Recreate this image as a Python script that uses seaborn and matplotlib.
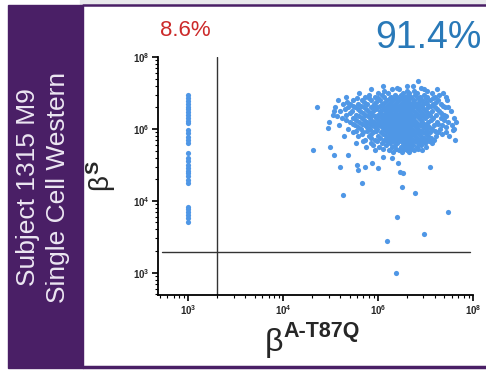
import numpy as np
import pandas as pd
import seaborn as sns
import matplotlib.pyplot as plt
from matplotlib.patches import Rectangle
from matplotlib.lines import Line2D

# values are log10 intensities
# left column: cells with no beta-A-T87Q signal (pinned at 10^3)
neg_x = 3.0
neg_y = [5.47, 5.43, 5.39, 5.35, 5.31, 5.27, 5.23, 5.19, 5.15, 5.11, 5.08,
         4.99, 4.94, 4.89, 4.84, 4.81,
         4.67, 4.60, 4.55, 4.50, 4.46, 4.42, 4.38, 4.34, 4.29, 4.25,
         3.92, 3.88, 3.84, 3.80, 3.76, 3.71]

# main cluster, one row per beta-S level
cluster_rows = {
    5.67: [5.42],
    5.60: [5.05, 5.37, 5.30],
    5.575: [5.20, 5.45],
    5.55: [4.92, 5.15, 5.22, 5.48, 5.62],
    5.525: [5.06, 5.30, 5.38, 5.52],
    5.50: [4.80, 5.00, 5.10, 5.26, 5.33, 5.41, 5.57, 5.68],
    5.475: [4.90, 5.04, 5.18, 5.24, 5.31, 5.39, 5.48, 5.64],
    5.45: [4.66, 4.86, 4.97, 5.06, 5.14, 5.20, 5.28, 5.35, 5.44, 5.52, 5.60, 5.72],
    5.425: [4.78, 4.90, 5.00, 5.12, 5.19, 5.25, 5.30, 5.34, 5.42, 5.50, 5.58],
    5.40: [4.58, 4.74, 4.83, 4.93, 5.02, 5.09, 5.16, 5.22, 5.27, 5.31, 5.38, 5.46, 5.55, 5.63, 5.73],
    5.375: [4.67, 4.85, 4.98, 5.07, 5.14, 5.20, 5.26, 5.32, 5.37, 5.43, 5.50, 5.61],
    5.35: [4.63, 4.70, 4.79, 4.88, 4.96, 5.04, 5.11, 5.18, 5.24, 5.29, 5.34, 5.40, 5.47, 5.52, 5.58, 5.66],
    5.325: [4.73, 4.82, 4.95, 5.02, 5.09, 5.15, 5.20, 5.24, 5.28, 5.33, 5.38, 5.44, 5.56, 5.68],
    5.30: [4.55, 4.68, 4.76, 4.85, 4.92, 4.99, 5.06, 5.12, 5.17, 5.21, 5.26, 5.30, 5.35, 5.41, 5.46, 5.53, 5.60, 5.70],
    5.275: [4.65, 4.79, 4.87, 4.98, 5.05, 5.11, 5.16, 5.22, 5.27, 5.31, 5.36, 5.42, 5.48, 5.62],
    5.25: [4.60, 4.72, 4.81, 4.89, 4.95, 5.02, 5.08, 5.14, 5.19, 5.24, 5.28, 5.33, 5.38, 5.44, 5.50, 5.57, 5.64, 5.77],
    5.225: [4.70, 4.84, 4.92, 5.03, 5.08, 5.13, 5.18, 5.23, 5.28, 5.34, 5.40, 5.46, 5.53, 5.66],
    5.20: [4.52, 4.66, 4.77, 4.86, 4.94, 5.00, 5.05, 5.10, 5.16, 5.21, 5.25, 5.30, 5.36, 5.42, 5.48, 5.55, 5.61, 5.69],
    5.175: [4.57, 4.80, 4.89, 4.97, 5.02, 5.07, 5.12, 5.19, 5.24, 5.29, 5.34, 5.39, 5.45, 5.52, 5.72],
    5.15: [4.62, 4.74, 4.83, 4.91, 4.98, 5.04, 5.09, 5.13, 5.18, 5.23, 5.27, 5.32, 5.37, 5.43, 5.49, 5.58, 5.66, 5.80],
    5.125: [4.66, 4.77, 4.85, 4.93, 5.00, 5.06, 5.11, 5.15, 5.20, 5.25, 5.29, 5.34, 5.38, 5.45, 5.56, 5.69],
    5.10: [4.48, 4.70, 4.80, 4.88, 4.96, 5.03, 5.08, 5.12, 5.17, 5.22, 5.26, 5.31, 5.35, 5.40, 5.46, 5.53, 5.62, 5.74, 5.82],
    5.075: [4.73, 4.83, 4.91, 4.99, 5.05, 5.10, 5.16, 5.21, 5.26, 5.31, 5.36, 5.42, 5.48, 5.63],
    5.05: [4.59, 4.76, 4.86, 4.94, 5.01, 5.07, 5.14, 5.19, 5.24, 5.28, 5.33, 5.38, 5.44, 5.51, 5.59, 5.67, 5.78],
    5.025: [4.79, 4.88, 4.97, 5.04, 5.09, 5.15, 5.19, 5.23, 5.28, 5.34, 5.40, 5.47, 5.54, 5.72],
    5.00: [4.68, 4.82, 4.91, 4.99, 5.06, 5.12, 5.17, 5.21, 5.26, 5.30, 5.36, 5.42, 5.50, 5.57, 5.65, 5.80],
    4.975: [4.77, 4.88, 4.98, 5.08, 5.13, 5.18, 5.23, 5.27, 5.32, 5.38, 5.45, 5.52, 5.60],
    4.95: [4.73, 4.84, 4.95, 5.03, 5.10, 5.15, 5.20, 5.25, 5.29, 5.34, 5.40, 5.47, 5.55, 5.63, 5.72],
    4.925: [4.83, 4.93, 5.05, 5.12, 5.17, 5.22, 5.26, 5.31, 5.36, 5.43, 5.50, 5.67],
    4.90: [4.64, 4.79, 4.90, 5.00, 5.08, 5.14, 5.19, 5.24, 5.28, 5.33, 5.39, 5.45, 5.53, 5.61, 5.75],
    4.875: [4.92, 5.02, 5.10, 5.16, 5.21, 5.25, 5.30, 5.35, 5.41, 5.48, 5.56],
    4.85: [4.86, 4.97, 5.06, 5.13, 5.18, 5.23, 5.27, 5.31, 5.37, 5.44, 5.51, 5.59],
    4.825: [4.84, 4.99, 5.09, 5.16, 5.22, 5.28, 5.33, 5.39, 5.46, 5.54],
    4.80: [4.77, 4.93, 5.04, 5.12, 5.20, 5.26, 5.30, 5.35, 5.42, 5.49, 5.57],
    4.775: [4.95, 5.08, 5.18, 5.27, 5.32, 5.37, 5.45],
    4.75: [4.87, 5.01, 5.15, 5.24, 5.29, 5.34, 5.41, 5.50],
    4.725: [5.05, 5.19, 5.27, 5.35, 5.42],
    4.70: [4.97, 5.11, 5.22, 5.30, 5.38, 5.46],
    4.675: [5.16, 5.25, 5.33],
}

# scattered cells around the cluster
outlier_x = [4.36, 4.31, 4.53, 4.47, 4.49, 4.53, 4.60, 4.63, 4.68, 4.78, 4.79, 4.83,
             4.86, 4.94, 5.00, 5.05, 5.15, 5.21, 5.23, 5.26, 5.25, 5.39, 5.55, 5.20,
             5.74, 5.48, 5.09, 5.19, 5.79, 5.81, 5.74]
outlier_y = [5.31, 4.71, 5.25, 5.01, 4.75, 4.64, 4.47, 4.08, 4.64, 4.50, 4.43, 4.25,
             4.47, 4.53, 4.46, 4.61, 4.60, 4.53, 4.40, 4.39, 4.19, 4.11, 4.47, 3.78,
             3.85, 3.54, 3.44, 3.00, 4.99, 4.85, 5.31]

gate_x = 3.305
gate_y = 3.29
neg_pct = "8.6%"
pos_pct = "91.4%"
tick_pos = [3, 4, 5, 6]
tick_text = ["3", "4", "6", "8"]

# build a single table of points
xs = [neg_x] * len(neg_y) + outlier_x
ys = list(neg_y) + outlier_y
for yv, row in cluster_rows.items():
    xs += row
    ys += [yv] * len(row)
df = pd.DataFrame({"beta_at87q": 10 ** np.array(xs), "beta_s": 10 ** np.array(ys)})

sns.set_style("white")
plt.rcParams["font.family"] = ["Liberation Sans", "DejaVu Sans"]
plt.rcParams["mathtext.fontset"] = "custom"
plt.rcParams["mathtext.rm"] = "Liberation Sans"
plt.rcParams["mathtext.bf"] = "Liberation Sans:bold"
plt.rcParams["mathtext.it"] = "Liberation Sans"

fig = plt.figure(figsize=(4.86, 3.72), dpi=100)
purple = "#4a1f66"

# left title panel and frame lines
fig.patches.append(Rectangle((80 / 486, 1 - 4 / 372), 406 / 486, 4 / 372,
                             transform=fig.transFigure, color="#e9e9ec", zorder=0))
fig.patches.append(Rectangle((8 / 486, 1 - 368 / 372), 75 / 486, 363 / 372,
                             transform=fig.transFigure, color=purple, zorder=0))
fig.lines.append(Line2D([83 / 486, 1], [1 - 5 / 372] * 2, transform=fig.transFigure,
                        color=purple, lw=1.8))
fig.lines.append(Line2D([83 / 486, 1], [1 - 367 / 372] * 2, transform=fig.transFigure,
                        color=purple, lw=2.5))
fig.text(43 / 486, 1 - 187 / 372, "Subject 1315 M9\nSingle Cell Western", rotation=90,
         ha="center", va="center", color="#ece6f2", fontsize=19, linespacing=1.3)

ax = fig.add_axes([158 / 486, 1 - 295 / 372, 315 / 486, 238 / 372])
sns.scatterplot(data=df, x="beta_at87q", y="beta_s", ax=ax, color="#4f97e6",
                s=14, linewidth=0, legend=False)
ax.set_xscale("log")
ax.set_yscale("log")
ax.set_xlim(10 ** 2.68, 10 ** 6.0)
ax.set_ylim(10 ** 2.69, 10 ** 6.0)

# quadrant gates
ax.axvline(10 ** gate_x, color="#333333", lw=1)
ax.plot([10 ** 2.72, 10 ** 5.97], [10 ** gate_y] * 2, color="#333333", lw=1)

ax.set_xticks([10 ** t for t in tick_pos])
ax.set_yticks([10 ** t for t in tick_pos])
labels = [r"$\mathbf{10^{%s}}$" % t for t in tick_text]
ax.set_xticklabels(labels, fontsize=7)
ax.set_yticklabels(labels, fontsize=7)
ax.tick_params(which="major", length=4, width=1.2, direction="out", color="black")
ax.tick_params(which="minor", length=2, width=0.8, direction="out", color="black")
ax.tick_params(axis="both", which="both", left=True, bottom=True, pad=2)
for side in ["top", "right"]:
    ax.spines[side].set_visible(False)
for side in ["left", "bottom"]:
    ax.spines[side].set_color("black")
    ax.spines[side].set_linewidth(1.3)

ax.set_xlabel("")
ax.set_ylabel(r"$\beta^{\mathbf{S}}$", fontsize=20, labelpad=11)
# x label: large beta with a bold superscript
fig.text(274 / 486, 1 - 343 / 372, "\u03b2", fontsize=23, ha="center", va="center")
fig.text(283 / 486, 1 - 331 / 372, "A-T87Q", fontsize=15.5, fontweight="bold",
         ha="left", va="center")

fig.text(185 / 486, 1 - 31 / 372, neg_pct, color="#cc2a2a", fontsize=16,
         ha="center", va="center")
fig.text(428 / 486, 1 - 38 / 372, pos_pct, color="#2979b8", fontsize=27,
         ha="center", va="center")

fig.savefig("out.png", dpi=100)
